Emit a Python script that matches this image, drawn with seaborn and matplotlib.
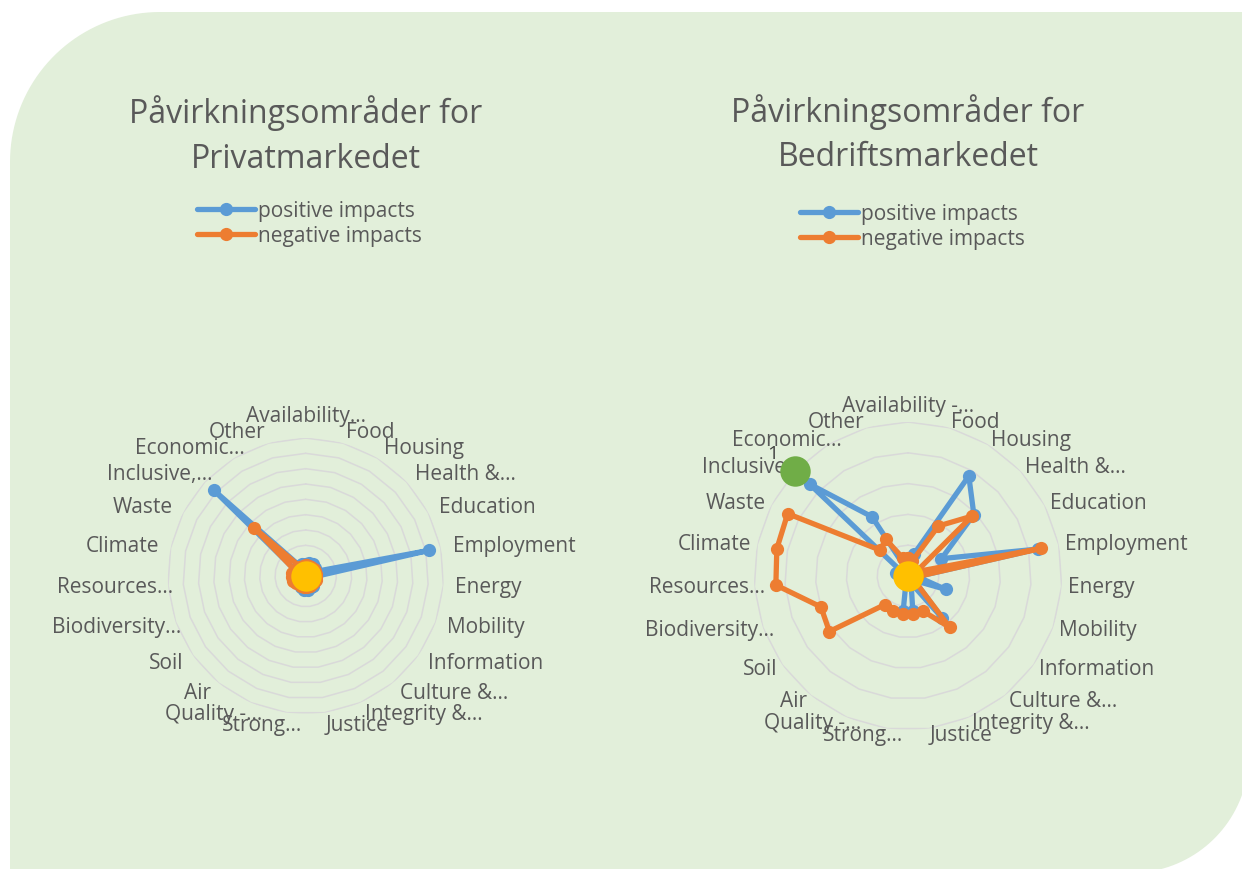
import numpy as np
import pandas as pd
import matplotlib
matplotlib.use("Agg")
import matplotlib.pyplot as plt
from matplotlib.path import Path
from matplotlib.patches import PathPatch
from matplotlib.lines import Line2D
import seaborn as sns

# ── data ─────────────────────────────────────────────────────────────
labels_priv = ["Availability…", "Food", "Housing", "Health &…", "Education", "Employment",
               "Energy", "Mobility", "Information", "Culture &…", "Integrity &…", "Justice",
               "Strong…", "Quality -…", "Air", "Soil", "Biodiversity…", "Resources…",
               "Climate", "Waste", "Inclusive,…", "Economic…", "Other"]
labels_bedr = ["Availability -…"] + labels_priv[1:]

# Privatmarkedet (axis max 9, 9 rings)
priv_positive = [0.8, 0.9, 0.9, 0.8, 0.6, 8.2, 0.6, 0.6, 0.7, 0.8, 0.8, 0.9,
                 0.9, 0.8, 0.7, 0.6, 0.6, 0.6, 0.6, 0.7, 8.2, 0.8, 0.8]
priv_negative = [0.7, 0.7, 0.7, 0.7, 0.7, 0.7, 0.7, 0.7, 0.7, 0.7, 0.7, 0.7,
                 0.7, 0.7, 0.7, 0.8, 0.9, 0.9, 0.9, 0.8, 4.6, 0.7, 0.7]

# Bedriftsmarkedet (axis max 1, 5 rings)
bedr_positive = [0.05, 0.15, 0.76, 0.585, 0.245, 0.86, 0.06, 0.26, 0.05, 0.35, 0.05, 0.23,
                 0.23, 0.03, 0.03, 0.03, 0.03, 0.03, 0.08, 0.03, 0.875, 0.45, 0.05]
bedr_negative = [0.12, 0.10, 0.38, 0.57, 0.06, 0.885, 0.06, 0.05, 0.05, 0.43, 0.25, 0.25,
                 0.25, 0.25, 0.24, 0.625, 0.60, 0.86, 0.87, 0.88, 0.245, 0.28, 0.12]

series_names = ["positive impacts", "negative impacts"]
colors = {"positive impacts": "#5B9BD5", "negative impacts": "#ED7D31"}
TEXT = "#595959"

sns.set_style("white")
plt.rcParams["font.family"] = ["Open Sans", "DejaVu Sans"]

fig = plt.figure(figsize=(12.42, 8.7), dpi=100)
fig.patch.set_facecolor("white")

# ── background shape (rounded top-left and bottom-right corners) ─────
W, H = 1242.0, 870.0
def arc(cx, cy, r, a0, a1, n=40):
    t = np.linspace(np.radians(a0), np.radians(a1), n)
    return list(zip(cx + r * np.cos(t), cy + r * np.sin(t)))

x0, x1, ytop, ybot = 10, 1249, H - 13, -4   # pixel coords, y up
r1, r2 = 150, 118
verts = [(x0, ybot)]
verts += arc(x0 + r1, ytop - r1, r1, 180, 90)
verts += [(x1, ytop)]
verts += arc(x1 - r2, ybot + r2, r2, 0, -90)
verts += [(x0, ybot)]
verts = [(x / W, y / H) for x, y in verts]
bg = PathPatch(Path(verts), facecolor="#E2EFDA", edgecolor="none",
               transform=fig.transFigure, zorder=-10)
fig.add_artist(bg)


def radar(rect, labels, pos, neg, rmax, nrings, label_r):
    ax = fig.add_axes(rect, projection="polar")
    ax.set_facecolor("none")
    ax.set_theta_zero_location("N")
    ax.set_theta_direction(-1)
    n = len(labels)
    theta = np.linspace(0, 2 * np.pi, n, endpoint=False)
    closed = np.append(theta, 2 * np.pi)

    # polygon grid rings
    for lvl in np.linspace(rmax / nrings, rmax, nrings):
        ax.plot(closed, np.full(n + 1, lvl), color="#D9D9D9", lw=1.1, zorder=1)

    df = pd.concat([
        pd.DataFrame({"theta": closed, "value": vals + vals[:1], "series": name})
        for name, vals in zip(series_names, [pos, neg])
    ])
    sns.lineplot(data=df, x="theta", y="value", hue="series", hue_order=series_names,
                 palette=colors, sort=False, estimator=None, marker="o",
                 markersize=9.5, markeredgewidth=0, linewidth=3.8, legend=False,
                 ax=ax, zorder=3)

    for k, (t, lab) in enumerate(zip(theta, labels)):
        s = np.sin(t)
        ha = "left" if s > 0.05 else ("right" if s < -0.05 else "center")
        va = "bottom" if k == 0 else "center"
        # Excel pushes truncated labels on the left side a bit inwards
        dx = 12 if (s < -0.05 and lab.endswith("…")) else 0
        ax.annotate(lab, (t, label_r), xytext=(dx, 0), textcoords="offset points",
                    ha=ha, va=va, fontsize=15, color=TEXT, annotation_clip=False)

    ax.set_ylim(0, rmax)
    ax.set_xticks([])
    ax.set_yticks([])
    ax.grid(False)
    ax.spines["polar"].set_visible(False)
    return ax, theta


def rect_for(cx, cy, r):
    return [(cx - r) / W, (H - cy - r) / H, 2 * r / W, 2 * r / H]


ax1, th1 = radar(rect_for(305.7, 577, 138), labels_priv, priv_positive, priv_negative,
                 9, 9, 9 * 150 / 138)
ax2, th2 = radar(rect_for(908, 577, 154), labels_bedr, bedr_positive, bedr_negative,
                 1.0, 5, 160 / 154)

# highlight markers
for ax in (ax1, ax2):
    sns.scatterplot(x=[0], y=[0], color="#FFC000", s=480, linewidth=0, ax=ax, zorder=5,
                    clip_on=False)
sns.scatterplot(x=[th2[20]], y=[1.0], color="#70AD47", s=480, linewidth=0, ax=ax2, zorder=5,
                clip_on=False)
ax2.annotate("1", (th2[20], 1.0), xytext=(-16, 13), textcoords="offset points",
             ha="center", va="center", fontsize=14, color="#404040", zorder=6)
for ax, rmax in ((ax1, 9), (ax2, 1.0)):
    ax.set_xlabel("")
    ax.set_ylabel("")
    ax.set_ylim(0, rmax)

# titles
for cx, y1, y2, name in [(306, 113, 160, "Privatmarkedet"), (908, 112, 158, "Bedriftsmarkedet")]:
    fig.text(cx / W, 1 - y1 / H, "Påvirkningsområder for", ha="center", va="center",
             fontsize=23, color=TEXT)
    fig.text(cx / W, 1 - y2 / H, name, ha="center", va="center", fontsize=23, color=TEXT)

# legends
handles = [Line2D([], [], color=colors[s], lw=3.8, marker="o", ms=9.5, mew=0) for s in series_names]
for lx, ly in [(197, 224), (800, 227)]:
    fig.legend(handles, series_names, loc="center left", bbox_to_anchor=(lx / W, 1 - ly / H),
               frameon=False, fontsize=15, labelcolor=TEXT, handlelength=2.8,
               handletextpad=0.15, labelspacing=0.2, borderpad=0, borderaxespad=0,
               numpoints=1)

plt.savefig("out.png", dpi=100)
plt.close()
